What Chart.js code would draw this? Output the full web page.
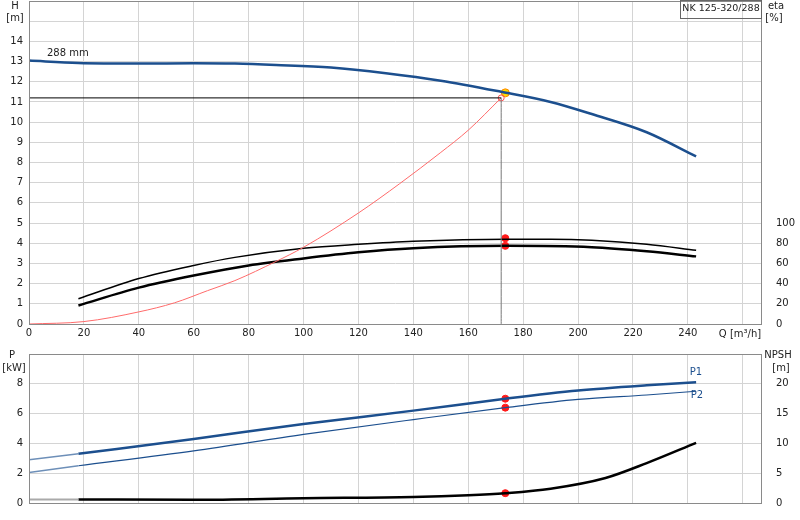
<!DOCTYPE html>
<html>
<head>
<meta charset="UTF-8">
<script src="https://cdn.jsdelivr.net/npm/chart.js"></script>
<style>
  body { margin: 0; background: #fff; }
  #wrap { position: relative; width: 800px; height: 520px; overflow: hidden; }
  #top { position: absolute; left: 0; top: -11px; }
  #bot { position: absolute; left: 0; top: 342px; }
</style>
</head>
<body>
<div id="wrap">
  <canvas id="top" width="800" height="353"></canvas>
  <canvas id="bot" width="800" height="178"></canvas>
</div>
<script>
// Q-H curve
const qH = [0, 18, 40, 60, 75, 90, 110, 130, 150, 172, 190, 205, 225, 243];
const hH = [13.05, 12.93, 12.9, 12.92, 12.9, 12.83, 12.7, 12.42, 12.05, 11.5, 11.0, 10.4, 9.5, 8.3];
// efficiency curves [%]
const qEta = [18, 40, 60, 75, 100, 120, 140, 174, 190, 205, 225, 243];
const eta1 = [25, 45, 58, 66, 75, 79, 82, 84, 84, 83, 79, 73];
const qEta2 = [18, 40, 60, 80, 100, 120, 140, 174, 205, 225, 243];
const eta2 = [18.4, 36, 48, 58, 65, 71, 75, 77.4, 76, 72, 67];
// system curve
const qSys = [0, 20, 40, 53, 65, 75, 90, 100, 120, 135, 150, 160, 172];
const hSys = [0, 0.12, 0.6, 1.05, 1.65, 2.15, 3.1, 3.8, 5.5, 6.95, 8.5, 9.6, 11.2];
// duty point
const qDuty = 173.5, hDuty = 11.45, hReq = 11.2, qReq = 172;
const etaDuty = [85, 77.4];
// power curves [kW]
const qP = [18, 60, 100, 140, 173.5, 200, 225, 243];
const p1 = [3.3, 4.3, 5.3, 6.2, 7.0, 7.55, 7.9, 8.1];
const p2 = [2.5, 3.5, 4.6, 5.6, 6.4, 6.95, 7.25, 7.5];
const p1Start = 2.9, p2Start = 2.05;
// NPSH [m]
const qN = [18, 60, 100, 140, 160, 173.5, 190, 210, 225, 243];
const npsh = [0.6, 0.55, 0.8, 1.0, 1.3, 1.65, 2.4, 4.2, 6.7, 10.1];
const npshStart = 0.6;
const xTicks = [0, 20, 40, 60, 80, 100, 120, 140, 160, 180, 200, 220, 240, 260];

const BLUE = '#1c4f8e';
const GRID = '#d4d4d4';
Chart.defaults.font = { family: 'DejaVu Sans', size: 10 };
Chart.defaults.color = '#222';
Chart.defaults.animation = false;

const pts = (xs, ys) => xs.map((x, i) => ({ x, y: ys[i] }));
const line = (data, color, width, axis, extra) => Object.assign({
  type: 'line', data, borderColor: color, borderWidth: width, pointRadius: 0,
  cubicInterpolationMode: 'monotone', yAxisID: axis, fill: false
}, extra || {});
const dot = (data, color, axis, r) => ({
  type: 'scatter', data, backgroundColor: color, borderColor: color, pointRadius: r || 3.5, yAxisID: axis
});

function texts(items, dy) {
  return {
    id: 'texts',
    afterDraw(c) {
      const ctx = c.ctx;
      ctx.save();
      items.forEach(t => {
        ctx.font = (t.size || 10) + 'px DejaVu Sans';
        ctx.fillStyle = t.color || '#222';
        ctx.textAlign = t.align || 'center';
        ctx.textBaseline = 'middle';
        ctx.fillText(t.text, t.x, t.y + dy);
      });
      ctx.restore();
    }
  };
}
const border = {
  id: 'border',
  afterDraw(c) {
    const a = c.chartArea, ctx = c.ctx;
    ctx.save();
    ctx.strokeStyle = '#8a8a8a';
    ctx.lineWidth = 1;
    ctx.strokeRect(a.left + 0.5, a.top + 0.5, a.right - a.left - 1, a.bottom - a.top);
    ctx.restore();
  }
};
const xAxis = (show, h) => ({
  type: 'linear', min: 0, max: 267,
  afterBuildTicks: s => { s.ticks = xTicks.map(v => ({ value: v })); },
  afterFit: s => { s.height = h; },
  grid: { color: GRID, drawTicks: false },
  border: { display: false },
  ticks: { display: show, padding: 3, callback: v => v > 240 ? '' : v }
});

new Chart(document.getElementById('top'), {
  data: {
    datasets: [
      line([{ x: 0, y: hReq }, { x: qReq, y: hReq }], '#000', 1, 'y', { tension: 0 }),
      line([{ x: qReq, y: hReq }, { x: qReq, y: 0 }], '#777', 1, 'y', { tension: 0 }),
      line(pts(qSys, hSys), '#ff6b6b', 1, 'y'),
      line(pts(qH, hH), BLUE, 2.5, 'y'),
      line(pts(qEta, eta1), '#000', 1.5, 'eta'),
      line(pts(qEta2, eta2), '#000', 2.5, 'eta'),
      { type: 'scatter', data: [{ x: qReq, y: hReq }], pointRadius: 3, backgroundColor: 'rgba(0,0,0,0)', borderColor: '#ff5050', yAxisID: 'y' },
      dot(etaDuty.map(v => ({ x: qDuty, y: v })), '#ff1a1a', 'eta'),
      { type: 'scatter', data: [{ x: qDuty, y: hDuty }], pointRadius: 4, backgroundColor: '#ffd800', borderColor: '#ff8800', borderWidth: 1, yAxisID: 'y' }
    ]
  },
  options: {
    responsive: false,
    layout: { padding: { top: 1 } },
    plugins: { legend: { display: false }, tooltip: { enabled: false } },
    scales: {
      x: xAxis(true, 18),
      y: {
        position: 'left', min: 0, max: 16,
        afterFit: s => { s.width = 29; },
        grid: { color: GRID, drawTicks: false }, border: { display: false },
        ticks: { stepSize: 1, padding: 6, callback: v => v > 14 ? '' : v }
      },
      eta: {
        position: 'right', min: 0, max: 320,
        afterBuildTicks: s => { s.ticks = [0, 20, 40, 60, 80, 100].map(v => ({ value: v })); },
        afterFit: s => { s.width = 38; },
        grid: { display: false }, border: { display: false },
        ticks: { padding: 6 }
      }
    }
  },
  plugins: [border, texts([
    { text: 'H', x: 15, y: 6 }, { text: '[m]', x: 15, y: 18 },
    { text: 'eta', x: 776, y: 6 }, { text: '[%]', x: 774, y: 18 },
    { text: 'Q [m³/h]', x: 740, y: 334 },
    { text: '288 mm', x: 47, y: 53, align: 'left' },
    { text: 'NK 125-320/288', x: 721, y: 9, size: 9.5 }
  ], 11), {
    id: 'box',
    afterDraw(c) {
      const ctx = c.ctx;
      ctx.save();
      ctx.fillStyle = '#fff';
      ctx.strokeStyle = '#666';
      ctx.strokeRect(680.5, 11.5, 81, 18);
      ctx.restore();
    }
  }]
});

new Chart(document.getElementById('bot'), {
  data: {
    datasets: [
      line([{ x: 0, y: p1Start }, { x: qP[0], y: p1[0] }], '#6d8fb8', 1.5, 'y', { tension: 0 }),
      line([{ x: 0, y: p2Start }, { x: qP[0], y: p2[0] }], '#6d8fb8', 1.5, 'y', { tension: 0 }),
      line([{ x: 0, y: npshStart }, { x: qN[0], y: npsh[0] }], '#aaa', 2, 'n', { tension: 0 }),
      line(pts(qP, p1), BLUE, 2.5, 'y'),
      line(pts(qP, p2), BLUE, 1.2, 'y'),
      line(pts(qN, npsh), '#000', 2.5, 'n'),
      dot([{ x: qDuty, y: 7.0 }, { x: qDuty, y: 6.4 }], '#ff1a1a', 'y'),
      dot([{ x: qDuty, y: 1.65 }], '#ff1a1a', 'n')
    ]
  },
  options: {
    responsive: false,
    layout: { padding: { top: 4 } },
    plugins: { legend: { display: false }, tooltip: { enabled: false } },
    scales: {
      x: xAxis(false, 17),
      y: {
        position: 'left', min: 0, max: 10,
        afterBuildTicks: s => { s.ticks = [0, 2, 4, 6, 8].map(v => ({ value: v })); },
        afterFit: s => { s.width = 29; },
        grid: { color: GRID, drawTicks: false }, border: { display: false },
        ticks: { padding: 6 }
      },
      n: {
        position: 'right', min: 0, max: 25,
        afterBuildTicks: s => { s.ticks = [0, 5, 10, 15, 20].map(v => ({ value: v })); },
        afterFit: s => { s.width = 38; },
        grid: { display: false }, border: { display: false },
        ticks: { padding: 6 }
      }
    }
  },
  plugins: [border, texts([
    { text: 'P', x: 12, y: 13 }, { text: '[kW]', x: 14, y: 26 },
    { text: 'NPSH', x: 778, y: 13 }, { text: '[m]', x: 781, y: 26 },
    { text: 'P1', x: 696, y: 30, color: BLUE }, { text: 'P2', x: 697, y: 53, color: BLUE }
  ], 0)]
});
</script>
</body>
</html>
